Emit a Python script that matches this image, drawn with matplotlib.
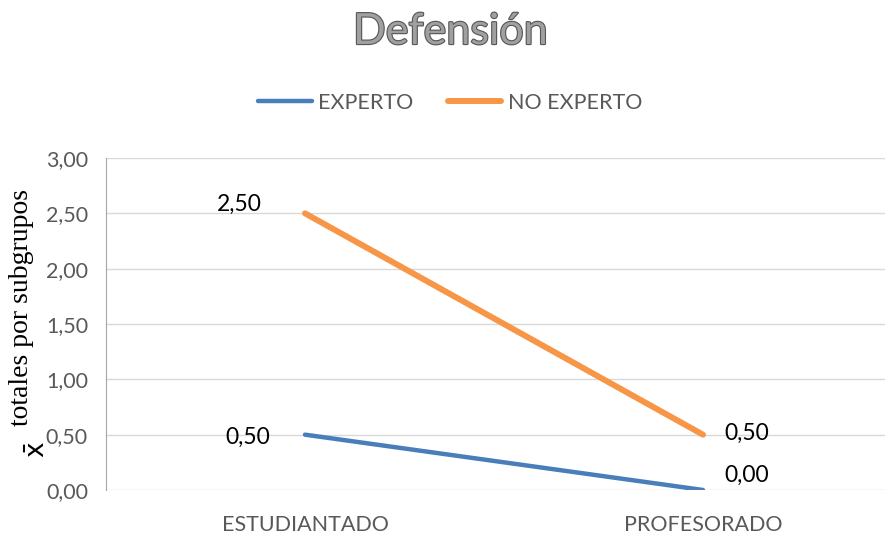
import matplotlib.pyplot as plt
import matplotlib.patheffects as pe
from matplotlib.ticker import FuncFormatter

categorias = ["ESTUDIANTADO", "PROFESORADO"]
experto = [0.50, 0.00]
no_experto = [2.50, 0.50]
series = ["EXPERTO", "NO EXPERTO"]
y_ticks = [0.0, 0.5, 1.0, 1.5, 2.0, 2.5, 3.0]

azul = "#4a7ebb"
naranja = "#f79646"
gris = "#595959"
fuente = "Lato"

fig = plt.figure(figsize=(8.85, 5.36), dpi=100)
ax = fig.add_axes([106/885, 1 - 490/536, 796/885, 332/536])

x = list(range(len(categorias)))
ax.plot(x, experto, color=azul, lw=3.2, solid_capstyle="round", label=series[0])
ax.plot(x, no_experto, color=naranja, lw=4.3, solid_capstyle="round", label=series[1])

ax.set_xlim(-0.5, 1.5)
ax.set_ylim(0, 3)
ax.set_yticks(y_ticks)
ax.yaxis.set_major_formatter(FuncFormatter(lambda v, p: f"{v:.2f}".replace(".", ",")))
ax.set_xticks(x)
ax.set_xticklabels(categorias)
ax.tick_params(axis="both", length=0, labelsize=15.5, colors=gris)
ax.tick_params(axis="y", pad=13)
ax.tick_params(axis="x", pad=18)
ax.grid(axis="y", color="#d9d9d9", lw=1)
ax.set_axisbelow(True)
for s in ["top", "right", "bottom"]:
    ax.spines[s].set_visible(False)
ax.spines["left"].set_color("#a6a6a6")
for lab in ax.get_xticklabels() + ax.get_yticklabels():
    lab.set_family(fuente)

# etiquetas de datos
def fmt(v):
    return f"{v:.2f}".replace(".", ",")

etiquetas = [
    (x[0], no_experto[0], -43, 9, "right"),
    (x[0], experto[0], -35, -3, "right"),
    (x[1], no_experto[1], 21, 1, "left"),
    (x[1], experto[1], 21, 15, "left"),
]
for xi, yi, dx, dy, ha in etiquetas:
    ax.annotate(fmt(yi), (xi, yi), xytext=(dx, dy), textcoords="offset pixels",
                ha=ha, va="center", fontsize=16.5, family=fuente)

# eje y
fig.text(22/885, 1 - 308/536, "totales por subgrupos", rotation=90, ha="center", va="center",
         fontsize=20, family="Liberation Serif")
fig.text(38/885, 1 - 450/536, r"$\bar{\mathrm{x}}$", rotation=90, ha="center", va="center", fontsize=19)

# título
fig.text(450/885, 1 - 32/536, "Defensión", ha="center", va="center", fontsize=31,
         family=fuente, color="#a0a0a0",
         path_effects=[pe.withStroke(linewidth=1.6, foreground="#555555")])

# leyenda
fig.legend(loc="center", bbox_to_anchor=(450/885, 1 - 103/536), ncol=2, frameon=False,
           prop={"family": fuente, "size": 15.5}, handlelength=2.5, columnspacing=1.6,
           handletextpad=0.3, labelcolor=gris)

fig.savefig("out.png", dpi=100)
